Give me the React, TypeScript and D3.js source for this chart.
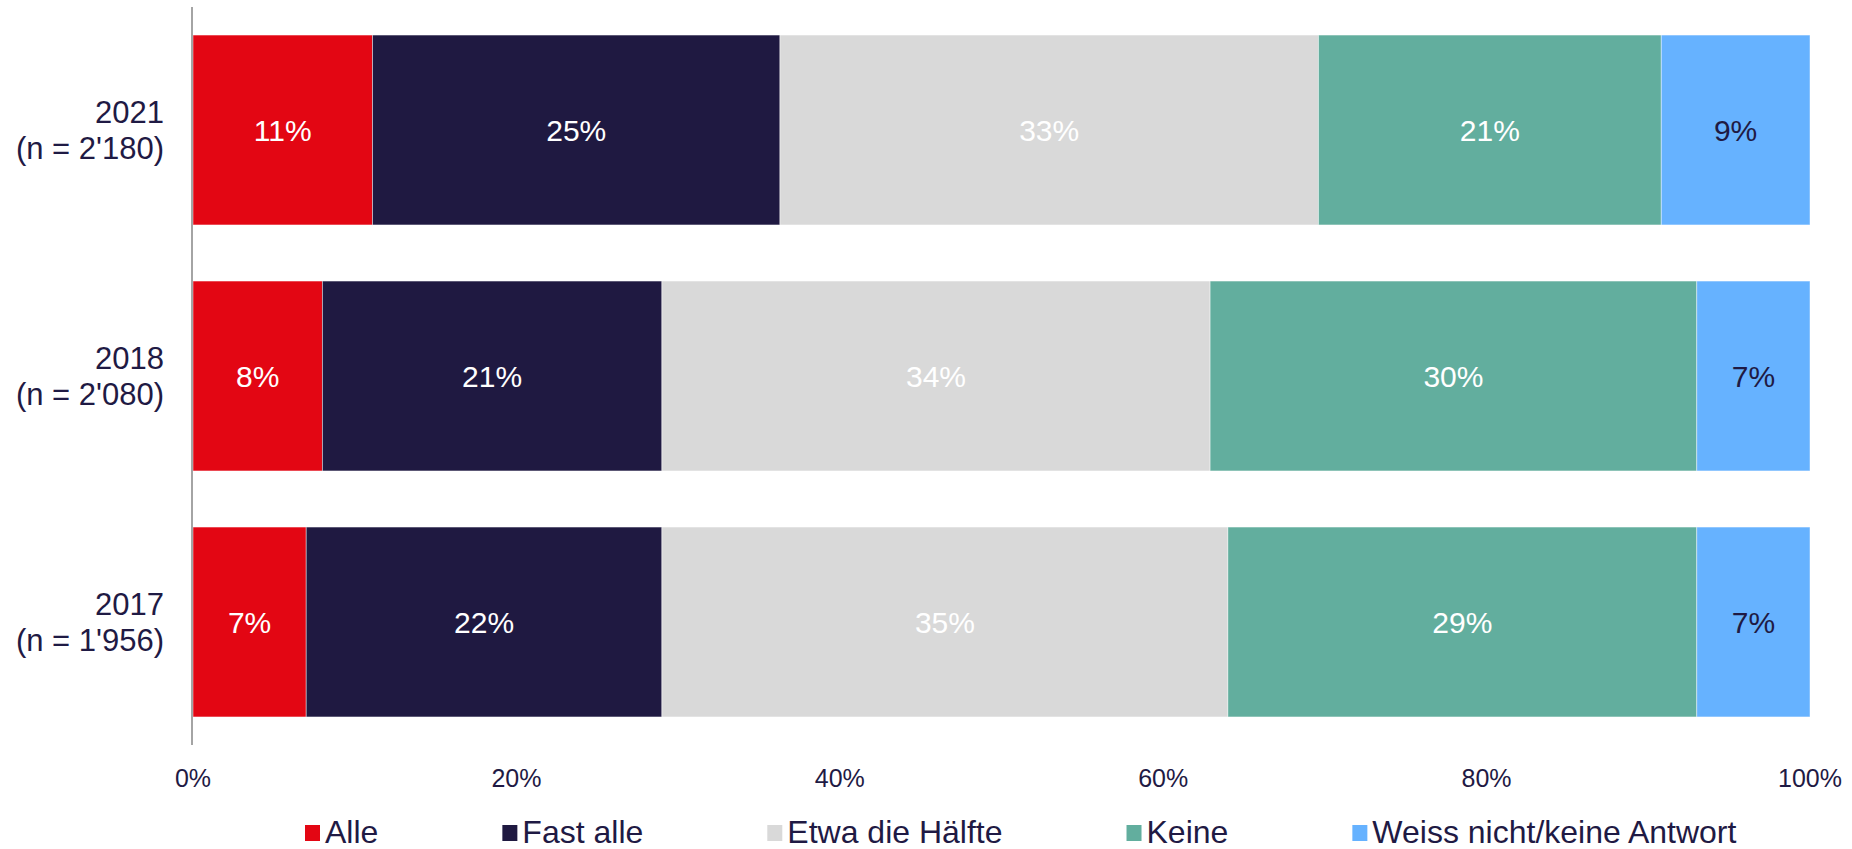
import React, { useEffect, useRef } from 'react';
import * as d3 from 'd3';

const years = ['2021', '2018', '2017'];
const sampleSizes = ["2'180", "2'080", "1'956"];
const series = ['Alle', 'Fast alle', 'Etwa die Hälfte', 'Keine', 'Weiss nicht/keine Antwort'];
const colors = ['#E30613', '#1F1941', '#D9D9D9', '#62AE9E', '#66B2FF'];
const labelColors = ['#FFFFFF', '#FFFFFF', '#FFFFFF', '#FFFFFF', '#1F1A44'];

// share per answer, order of series
const alle = [11.1, 8.0, 7.0];
const fastAlle = [25.2, 21.0, 22.0];
const haelfte = [33.3, 33.9, 35.0];
const keine = [21.2, 30.1, 29.0];
const weissNicht = [9.2, 7.0, 7.0];

const ticks = [0, 20, 40, 60, 80, 100];

const W = 1852;
const H = 849;
const FONT = '"Liberation Sans", Arial, sans-serif';
const TEXT = '#1F1A44';

const App = () => {
  const svgRef = useRef<SVGSVGElement>(null);

  useEffect(() => {
    document.body.style.margin = '0';
    const svg = d3.select(svgRef.current);
    svg.selectAll('*').remove();

    const rows = years.map((y, i) => ({
      year: y,
      n: sampleSizes[i],
      values: [alle[i], fastAlle[i], haelfte[i], keine[i], weissNicht[i]],
    }));

    const x = d3.scaleLinear().domain([0, 100]).range([193, 1810]);
    const y = d3.scaleBand().domain(years).range([7, 745]).paddingInner(0.228).paddingOuter(0.114);

    const g = svg.append('g');

    rows.forEach((r) => {
      let acc = 0;
      r.values.forEach((v, k) => {
        const x0 = x(acc);
        const x1 = x(acc + v);
        acc += v;
        g.append('rect')
          .attr('x', x0)
          .attr('y', y(r.year)!)
          .attr('width', x1 - x0)
          .attr('height', y.bandwidth())
          .attr('fill', colors[k])
          .attr('stroke', 'rgba(255,255,255,0.6)')
          .attr('stroke-width', 0.75);
        g.append('text')
          .attr('x', (x0 + x1) / 2)
          .attr('y', y(r.year)! + y.bandwidth() / 2)
          .attr('text-anchor', 'middle')
          .attr('dominant-baseline', 'central')
          .attr('font-family', FONT)
          .attr('font-size', 30)
          .attr('fill', labelColors[k])
          .text(`${Math.round(v)}%`);
      });

      const cy = y(r.year)! + y.bandwidth() / 2;
      const lab = g.append('text')
        .attr('text-anchor', 'end')
        .attr('font-family', FONT)
        .attr('font-size', 31)
        .attr('fill', TEXT);
      lab.append('tspan').attr('x', 164).attr('y', cy - 18).attr('dominant-baseline', 'central').text(r.year);
      lab.append('tspan').attr('x', 164).attr('y', cy + 18).attr('dominant-baseline', 'central').text(`(n = ${r.n})`);
    });

    // vertical axis line
    g.append('line')
      .attr('x1', 192).attr('x2', 192)
      .attr('y1', 7).attr('y2', 745)
      .attr('stroke', '#868686')
      .attr('stroke-width', 1.5);

    ticks.forEach((t) => {
      g.append('text')
        .attr('x', x(t))
        .attr('y', 778)
        .attr('text-anchor', 'middle')
        .attr('dominant-baseline', 'central')
        .attr('font-family', FONT)
        .attr('font-size', 25)
        .attr('fill', TEXT)
        .text(`${t}%`);
    });

    // legend
    const leg = svg.append('g');
    let lx = 305;
    series.forEach((s, k) => {
      leg.append('rect')
        .attr('x', lx)
        .attr('y', 825)
        .attr('width', 15)
        .attr('height', 16)
        .attr('fill', colors[k]);
      const t = leg.append('text')
        .attr('x', lx + 20)
        .attr('y', 832)
        .attr('dominant-baseline', 'central')
        .attr('font-family', FONT)
        .attr('font-size', 32)
        .attr('fill', TEXT)
        .text(s);
      const w = (t.node() as SVGTextElement).getComputedTextLength();
      lx += 20 + w + 124;
    });
  }, []);

  return <svg ref={svgRef} width={W} height={H} style={{ display: 'block' }} />;
};

export default App;
